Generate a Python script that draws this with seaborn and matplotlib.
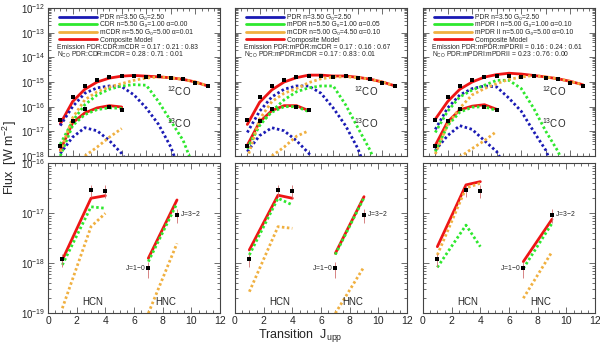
'''
plot.py

CO / HCN / HNC ladders with three-component model fits
'''
import matplotlib
matplotlib.use('Agg')
import matplotlib.pyplot as plt
from matplotlib.lines import Line2D
from matplotlib.ticker import LogLocator, MultipleLocator, NullFormatter
import seaborn as sns
import numpy as np

# observed fluxes (same in every panel)
j_co = np.arange(1, 14)
obs_12co = [2.9e-17, 2.5e-16, 6.9e-16, 1.17e-15, 1.62e-15, 1.8e-15, 1.73e-15,
            1.62e-15, 1.77e-15, 1.48e-15, 1.31e-15, 9.4e-16, 6.8e-16]
j_13co_obs = [1, 2, 3, 5, 6]
obs_13co = [2.6e-18, 2.6e-17, 8.3e-17, 9.3e-17, 7.4e-17]
j_13co = np.arange(1, 8)

j_hcn = [1, 3, 4]
obs_hcn = [1.2e-18, 2.9e-17, 2.8e-17]
err_hcn = [0.35e-18, 0.8e-17, 0.8e-17]
j_hnc = [7, 9]
obs_hnc = [7.9e-19, 9.3e-18]
err_hnc = [2.8e-19, 2.8e-18]

# model curves per panel: blue = PDR, green / orange = 2nd / 3rd component, red = composite
co12_models = [
    {'blue': [1.7e-17, 1.0e-16, 3.5e-16, 5.8e-16, 6.9e-16, 6.5e-16, 3.0e-16, 8.8e-17, 1.9e-17, 2.3e-18, 1e-19, 1e-20, 1e-21],
     'green': [3.0e-18, 2.6e-17, 1.2e-16, 3.0e-16, 5.1e-16, 6.9e-16, 7.8e-16, 7.4e-16, 1.6e-16, 2.6e-17, 4.3e-18, 2.3e-19, 1e-20],
     'orange': [1.5e-18, 3.5e-17, 1.9e-16, 4.0e-16, 6.3e-16, 8.6e-16, 1.17e-15, 1.44e-15, 1.62e-15, 1.48e-15, 1.28e-15, 1.0e-15, 6.9e-16],
     'red': [2.0e-17, 1.6e-16, 5.1e-16, 1.0e-15, 1.44e-15, 1.73e-15, 1.84e-15, 1.73e-15, 1.62e-15, 1.48e-15, 1.28e-15, 1.0e-15, 6.9e-16]},
    {'blue': [9e-18, 6.5e-17, 2.5e-16, 5.1e-16, 6.9e-16, 6.9e-16, 3.5e-16, 8.8e-17, 1.7e-17, 2.0e-18, 1e-19, 1e-20, 1e-21],
     'green': [2.0e-18, 1.7e-17, 6.5e-17, 1.9e-16, 4.0e-16, 5.8e-16, 6.9e-16, 6.9e-16, 1.2e-16, 1.4e-17, 1.7e-18, 1e-19, 1e-20],
     'orange': [8e-19, 3.1e-17, 1.6e-16, 3.5e-16, 5.4e-16, 9.4e-16, 1.35e-15, 1.6e-15, 1.62e-15, 1.5e-15, 1.3e-15, 1.0e-15, 7.0e-16],
     'red': [1.9e-17, 1.5e-16, 4.8e-16, 1.0e-15, 1.5e-15, 1.9e-15, 1.9e-15, 1.75e-15, 1.75e-15, 1.55e-15, 1.3e-15, 1.0e-15, 7.0e-16]},
    {'blue': [1.2e-17, 8.8e-17, 3.0e-16, 5.4e-16, 6.9e-16, 6.3e-16, 2.2e-16, 6.5e-17, 1.0e-17, 1.7e-18, 1e-19, 1e-20, 1e-21],
     'green': [9e-18, 6.5e-17, 2.5e-16, 4.7e-16, 7.4e-16, 1.17e-15, 1.17e-15, 5.4e-16, 8.8e-17, 1.0e-17, 1.5e-18, 1e-19, 1e-20],
     'orange': [1.2e-18, 1.9e-17, 8.8e-17, 3.0e-16, 5.4e-16, 8.6e-16, 1.28e-15, 1.58e-15, 1.84e-15, 1.6e-15, 1.35e-15, 1.06e-15, 7.8e-16],
     'red': [3.1e-17, 1.6e-16, 5.1e-16, 1.0e-15, 1.58e-15, 2.0e-15, 2.27e-15, 2.1e-15, 1.84e-15, 1.6e-15, 1.35e-15, 1.06e-15, 7.8e-16]},
]
co13_models = [
    {'blue': [1.26e-18, 5.8e-18, 1.4e-17, 1.05e-17, 4.2e-18, 1.26e-18, 2e-19],
     'green': [1.0e-18, 1.7e-17, 4.8e-17, 7.6e-17, 9.0e-17, 8.5e-17, np.nan],
     'orange': [np.nan, np.nan, 1.0e-18, 2.3e-18, 5.8e-18, 1.3e-17, np.nan],
     'red': [1.7e-18, 2.2e-17, 5.6e-17, 8.9e-17, 1.1e-16, 9.7e-17, np.nan]},
    {'blue': [1.5e-18, 6.7e-18, 1.4e-17, 1.05e-17, 4.2e-18, 1.3e-18, 2e-19],
     'green': [2.0e-18, 2.0e-17, 6.0e-17, 1.0e-16, 1.0e-16, 6.3e-17, np.nan],
     'orange': [np.nan, np.nan, 1.0e-18, 2.3e-18, 6.3e-18, 1.05e-17, np.nan],
     'red': [2.7e-18, 2.4e-17, 6.9e-17, 1.1e-16, 1.1e-16, 6.9e-17, np.nan]},
    {'blue': [1.7e-18, 6.7e-18, 1.7e-17, 1.2e-17, 4.2e-18, 1.5e-18, 2e-19],
     'green': [1.5e-18, 1.7e-17, 6.0e-17, 9.5e-17, 1.0e-16, 7.0e-17, np.nan],
     'orange': [np.nan, np.nan, 9e-19, 2.0e-18, 4.2e-18, 1.0e-17, np.nan],
     'red': [2.7e-18, 2.4e-17, 7.4e-17, 1.05e-16, 1.2e-16, 7.8e-17, np.nan]},
]
hcn_models = [
    {'green': [9.3e-19, 1.35e-17, 1.26e-17], 'orange': [1.26e-19, 5.4e-18, 1.0e-17], 'red': [1.17e-18, 2.0e-17, 2.25e-17]},
    {'green': [1.47e-18, 2.0e-17, 1.47e-17], 'orange': [2.7e-19, 5.4e-18, 5.0e-18], 'red': [1.85e-18, 2.3e-17, 2.0e-17]},
    {'green': [8.3e-19, 5.8e-18, 2.15e-18], 'orange': [1.47e-18, 3.2e-17, 4.0e-17], 'red': [2.15e-18, 3.7e-17, 4.3e-17]},
]
hnc_models = [
    {'green': [1.08e-18, 1.58e-17], 'orange': [1.0e-19, 2.5e-18], 'red': [1.26e-18, 1.85e-17]},
    {'green': [1.5e-18, 2.05e-17], 'orange': [1.0e-19, 8.5e-19], 'red': [1.58e-18, 2.15e-17]},
    {'green': [7.9e-19, 6.3e-18], 'orange': [2.0e-19, 1.7e-18], 'red': [1.08e-18, 7.6e-18]},
]

legend_labels = [
    ['PDR n=3.50 G₀=2.50', 'CDR n=5.50 G₀=1.00 α=0.00',
     'mCDR n=5.50 G₀=5.00 α=0.01', 'Composite Model'],
    ['PDR n=3.50 G₀=2.50', 'mPDR n=5.50 G₀=1.00 α=0.05',
     'mCDR n=5.00 G₀=4.50 α=0.10', 'Composite Model'],
    ['PDR n=3.50 G₀=2.50', 'mPDR I n=5.00 G₀=1.00 α=0.10',
     'mPDR II n=5.00 G₀=5.00 α=0.10', 'Composite Model'],
]
emission_text = ['Emission PDR:CDR:mCDR = 0.17 : 0.21 : 0.83',
                 'Emission PDR:mPDR:mCDR = 0.17 : 0.16 : 0.67',
                 'Emission PDR:mPDR:mPDRII = 0.16 : 0.24 : 0.61']
nco_text = ['N$_{\\rm CO}$ PDR:CDR:mCDR = 0.28 : 0.71 : 0.01',
            'N$_{\\rm CO}$ PDR:mPDR:mCDR = 0.17 : 0.83 : 0.01',
            'N$_{\\rm CO}$ PDR:mPDRI:mPDRII = 0.23 : 0.76 : 0.00']

colors = {'blue': '#1a1ab4', 'green': '#2ee82e', 'orange': '#f0b040', 'red': '#ee1515'}
dotted = (0, (0.9, 0.9))
small = 4.9

sns.set_style('ticks')
plt.rcParams['font.family'] = ['Liberation Sans', 'DejaVu Sans']
plt.rcParams['mathtext.fontset'] = 'custom'
plt.rcParams['mathtext.rm'] = 'Liberation Sans'
plt.rcParams['mathtext.it'] = 'Liberation Sans:italic'
plt.rcParams['axes.edgecolor'] = '#444444'
plt.rcParams['axes.linewidth'] = 0.8

fig = plt.figure(figsize=(6.0, 3.46), dpi=100)
lefts = [48 / 600, 235 / 600, 423 / 600]
width = 172 / 600


def style_axis(ax, xmax, ymin, ymax, ylabels):
    ax.set_yscale('log')
    ax.set_xlim(0, xmax)
    ax.set_ylim(ymin, ymax)
    ax.yaxis.set_major_locator(LogLocator(base=10, numticks=10))
    ax.yaxis.set_minor_locator(LogLocator(base=10, subs=np.arange(2, 10), numticks=20))
    ax.yaxis.set_minor_formatter(NullFormatter())
    ax.tick_params(which='both', direction='in', top=True, right=True,
                   color='#555555', width=0.6, labelsize=7, pad=2)
    ax.tick_params(which='major', length=4)
    ax.tick_params(which='minor', length=2)
    if not ylabels:
        ax.set_yticklabels([])
    ax.set_xlabel('')
    ax.set_ylabel('')


def dots(ax, x, y):
    sns.scatterplot(x=x, y=y, ax=ax, color='black', marker='s', s=8,
                    edgecolor='none', zorder=5)


for p in range(3):
    top = fig.add_axes([lefts[p], 1 - 156 / 346, width, 148 / 346])
    bot = fig.add_axes([lefts[p], 1 - 313.3 / 346, width, 150 / 346])

    # top panel: CO ladders
    co = co12_models[p]
    c13 = co13_models[p]
    sns.lineplot(x=j_co, y=co['red'], ax=top, color=colors['red'], lw=2.0, errorbar=None, sort=False)
    sns.lineplot(x=j_13co, y=c13['red'], ax=top, color=colors['red'], lw=2.0, errorbar=None, sort=False)
    for comp in ['blue', 'green', 'orange']:
        sns.lineplot(x=j_co, y=co[comp], ax=top, color=colors[comp], lw=2.0,
                     linestyle=dotted, errorbar=None, sort=False)
        sns.lineplot(x=j_13co, y=c13[comp], ax=top, color=colors[comp], lw=2.0,
                     linestyle=dotted, errorbar=None, sort=False)
    dots(top, j_co, obs_12co)
    dots(top, j_13co_obs, obs_13co)
    top.text(10.65, 4.2e-16, '$^{12}$CO', fontsize=7, ha='center', va='center')
    top.text(10.65, 2.1e-17, '$^{13}$CO', fontsize=7, ha='center', va='center')
    style_axis(top, 14, 1e-18, 1e-12, p == 0)
    top.xaxis.set_major_locator(MultipleLocator(2))
    top.xaxis.set_minor_locator(MultipleLocator(0.5))
    top.tick_params(axis='x', labelbottom=False)

    handles = [Line2D([], [], color=colors[c], lw=2.0) for c in ['blue', 'green', 'orange', 'red']]
    top.legend(handles, legend_labels[p], loc='upper left', bbox_to_anchor=(0.065, 0.96),
               frameon=False, fontsize=small, handlelength=5.6, handletextpad=0.45,
               labelspacing=0.08, borderpad=0, borderaxespad=0, handleheight=0.5)
    top.text(0.052, 0.735, emission_text[p], transform=top.transAxes, fontsize=small,
             ha='left', va='center')
    top.text(0.052, 0.682, nco_text[p], transform=top.transAxes, fontsize=small,
             ha='left', va='center')

    # bottom panel: HCN and HNC
    hcn = hcn_models[p]
    hnc = hnc_models[p]
    sns.lineplot(x=j_hcn, y=hcn['red'], ax=bot, color=colors['red'], lw=2.0, errorbar=None, sort=False)
    sns.lineplot(x=j_hnc, y=hnc['red'], ax=bot, color=colors['red'], lw=2.0, errorbar=None, sort=False)
    for comp in ['green', 'orange']:
        sns.lineplot(x=j_hcn, y=hcn[comp], ax=bot, color=colors[comp], lw=2.0,
                     linestyle=dotted, errorbar=None, sort=False)
        sns.lineplot(x=j_hnc, y=hnc[comp], ax=bot, color=colors[comp], lw=2.0,
                     linestyle=dotted, errorbar=None, sort=False)
    bot.errorbar(j_hcn, obs_hcn, yerr=err_hcn, fmt='none', ecolor='#d07070', elinewidth=0.6, zorder=4)
    bot.errorbar(j_hnc, obs_hnc, yerr=err_hnc, fmt='none', ecolor='#d07070', elinewidth=0.6, zorder=4)
    dots(bot, j_hcn, obs_hcn)
    dots(bot, j_hnc, obs_hnc)
    bot.text(3.1, 1.7e-19, 'HCN', fontsize=7, ha='center', va='center')
    bot.text(8.2, 1.7e-19, 'HNC', fontsize=7, ha='center', va='center')
    bot.text(6.8, 8.3e-19, 'J=1$-$0', fontsize=small, ha='right', va='center')
    bot.text(9.2, 1.0e-17, 'J=3$-$2', fontsize=small, ha='left', va='center')
    style_axis(bot, 12, 1e-19, 1e-16, p == 0)
    bot.xaxis.set_major_locator(MultipleLocator(2))
    bot.xaxis.set_minor_locator(MultipleLocator(0.5))
    bot.tick_params(axis='x', labelsize=7.5)

fig.text(10 / 600, 1 - 158 / 346, 'Flux  [W m$^{-2}$]', rotation=90, fontsize=9,
         ha='center', va='center')
fig.text(0.5, 1 - 336 / 346, 'Transition  J$_{\\rm upp}$', fontsize=9, ha='center', va='center')

fig.savefig('out.png', dpi=100)
